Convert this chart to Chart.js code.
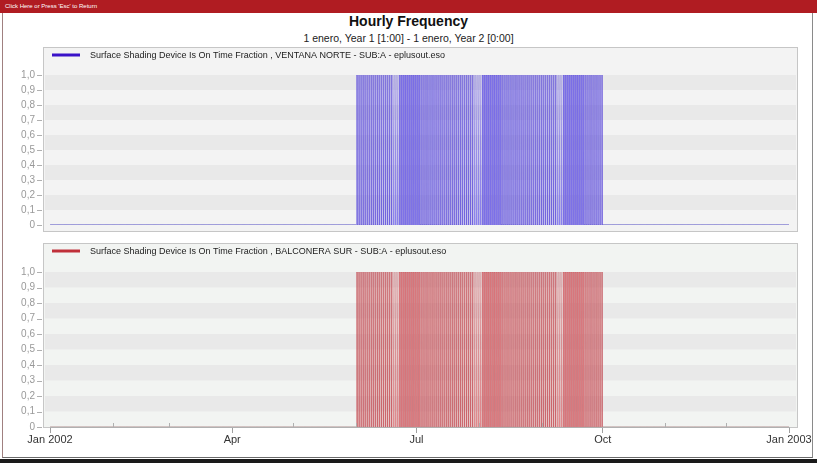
<!DOCTYPE html>
<html>
<head>
<meta charset="utf-8">
<script src="https://cdn.jsdelivr.net/npm/chart.js@4.4.1/dist/chart.umd.min.js"></script>
<style>
  html, body { margin: 0; padding: 0; background: #fff; }
  body { width: 817px; height: 463px; position: relative; overflow: hidden; font-family: "Liberation Sans", Arial, sans-serif; }
  #topbar { position: absolute; left: 0; top: 0; width: 817px; height: 13px; background: #b01c22; color: #fff; font-size: 6px; line-height: 13px; padding-left: 5px; box-sizing: border-box; }
  #frame { position: absolute; left: 2px; top: 13px; width: 811px; height: 445px; border-left: 1px solid #a08080; border-right: 1px solid #8a8a8a; border-bottom: 1px solid #6a6a6a; box-sizing: border-box; }
  #bottomedge { position: absolute; left: 0; top: 459px; width: 817px; height: 4px; background: #1a1a1a; }
  #title { position: absolute; left: 0; top: 13px; width: 817px; text-align: center; font-weight: bold; font-size: 14px; color: #111; }
  #subtitle { position: absolute; left: 0; top: 32px; width: 817px; text-align: center; font-size: 10.5px; color: #222; }
  canvas { position: absolute; left: 0; }
</style>
</head>
<body>
<div id="topbar">Click Here or Press 'Esc' to Return</div>
<div id="frame"></div>
<div id="bottomedge"></div>
<div id="title">Hourly Frequency</div>
<div id="subtitle">1 enero, Year 1 [1:00] - 1 enero, Year 2 [0:00]</div>
<canvas id="northChart" width="817" height="199" style="top:47px"></canvas>
<canvas id="southChart" width="817" height="215" style="top:243px"></canvas>
<script>
// --- data -------------------------------------------------------------
const hoursInYear = 8760;
// day-of-year (0 = 1 Jan) bounds of the shading season
const northSeason = [151, 273];   // 1 Jun - 1 Oct
const southSeason = [151, 273];
// shade state for each hour of a season day (0..23)
const northDayProfile = [0,0,0,0,0,0,1,1,1,1,1,1,1,1,1,1,1,1,1,1,1,0,0,0];
const southDayProfile = [0,0,0,0,0,0,1,1,1,1,1,1,1,1,1,1,1,1,1,1,1,0,0,0];

const monthStarts = [0, 31, 59, 90, 120, 151, 181, 212, 243, 273, 304, 334, 365];
const monthLabels = ["Jan 2002", "", "", "Apr", "", "", "Jul", "", "", "Oct", "", "", "Jan 2003"];
const yTicks = [0, 0.1, 0.2, 0.3, 0.4, 0.5, 0.6, 0.7, 0.8, 0.9, 1.0];

const northLabel = "Surface Shading Device Is On Time Fraction , VENTANA NORTE - SUB:A - eplusout.eso";
const southLabel = "Surface Shading Device Is On Time Fraction , BALCONERA SUR - SUB:A - eplusout.eso";

function hourlySeries(season, profile) {
  const pts = [];
  for (let h = 1; h <= hoursInYear; h++) {
    const day = Math.floor((h - 1) / 24);
    const inSeason = day >= season[0] && day < season[1];
    pts.push({ x: h / 24, y: inSeason ? profile[(h - 1) % 24] : 0 });
  }
  return pts;
}

// --- panel background, bands, legend, tick marks -----------------------
const panelPlugin = {
  id: "panel",
  beforeDraw(chart, args, opts) {
    const ctx = chart.ctx;
    const y = chart.scales.y;
    ctx.save();
    ctx.fillStyle = opts.bg;
    ctx.fillRect(43.5, 0.5, 754, 184);
    // alternating bands
    for (let i = 0; i < 10; i++) {
      if (i % 2 === 1) {
        const y0 = y.getPixelForValue(yTicks[i]);
        const y1 = y.getPixelForValue(yTicks[i + 1]);
        ctx.fillStyle = "#e9e9e9";
        ctx.fillRect(45, y1, 751, y0 - y1);
      }
    }
    ctx.strokeStyle = "#c6c6c6";
    ctx.lineWidth = 1;
    ctx.strokeRect(43.5, 0.5, 754, 184);
    // y tick marks outside the panel
    ctx.strokeStyle = "#b0b0b0";
    yTicks.forEach(v => {
      const py = Math.round(y.getPixelForValue(v)) + 0.5;
      ctx.beginPath();
      ctx.moveTo(37, py);
      ctx.lineTo(42, py);
      ctx.stroke();
    });
    // legend
    const ds = chart.data.datasets[0];
    ctx.strokeStyle = opts.legendColor;
    ctx.lineWidth = 3;
    ctx.beginPath();
    ctx.moveTo(52, 8);
    ctx.lineTo(80, 8);
    ctx.stroke();
    ctx.fillStyle = "#222";
    ctx.font = "9px 'Liberation Sans', Arial, sans-serif";
    ctx.textBaseline = "middle";
    ctx.fillText(ds.label, 90, 8.5);
    ctx.restore();
  },
  afterDraw(chart, args, opts) {
    if (!opts.minorTicks) return;
    const ctx = chart.ctx;
    const x = chart.scales.x;
    const b = chart.chartArea.bottom;
    ctx.save();
    ctx.strokeStyle = "#b0b0b0";
    ctx.lineWidth = 1;
    monthStarts.forEach((m, i) => {
      if (monthLabels[i]) return;
      const px = Math.round(x.getPixelForValue(m)) + 0.5;
      ctx.beginPath();
      ctx.moveTo(px, b - 4);
      ctx.lineTo(px, b);
      ctx.stroke();
    });
    ctx.restore();
  }
};

function makeChart(id, label, data, line, baseLine, fillCol, legendColor, bg, showX) {
  return new Chart(document.getElementById(id), {
    type: "line",
    data: {
      datasets: [{
        label,
        data,
        borderColor: line,
        borderWidth: 0.6,
        backgroundColor: fillCol,
        fill: "origin",
        pointRadius: 0,
        tension: 0,
        segment: {
          // flat stretches at zero are drawn as a plain thin line
          borderColor: c => (c.p0.parsed.y === 0 && c.p1.parsed.y === 0 ? baseLine : undefined),
          borderWidth: c => (c.p0.parsed.y === 0 && c.p1.parsed.y === 0 ? 1 : undefined)
        }
      }]
    },
    options: {
      responsive: false,
      animation: false,
      parsing: false,
      normalized: true,
      layout: { padding: showX ? { top: 29, right: 28, bottom: 6 } : { top: 28, right: 28, bottom: 8 } },
      plugins: {
        legend: { display: false },
        tooltip: { enabled: false },
        panel: { bg, legendColor, minorTicks: showX }
      },
      scales: {
        x: {
          type: "linear",
          min: 0,
          max: 365,
          display: showX,
          afterFit(s) { if (showX) s.height = 25; },
          afterBuildTicks(s) { s.ticks = monthStarts.map(v => ({ value: v })); },
          ticks: {
            autoSkip: false,
            maxRotation: 0,
            padding: 0,
            color: "#333",
            font: { size: 11, family: "'Liberation Sans', Arial, sans-serif" },
            callback: (v, i) => monthLabels[i]
          },
          grid: {
            drawOnChartArea: false,
            tickLength: 6,
            color: c => (monthLabels[c.index] ? "#a0a0a0" : "rgba(0,0,0,0)")
          },
          border: { display: true, color: "#b0b0b0" }
        },
        y: {
          min: 0,
          max: 1,
          afterFit(s) { s.width = 50; },
          afterBuildTicks(s) { s.ticks = yTicks.map(v => ({ value: v })); },
          ticks: {
            autoSkip: false,
            padding: 15,
            color: "#999",
            font: { size: 10, family: "'Liberation Sans', Arial, sans-serif" },
            callback: v => (v === 0 ? "0" : (Math.round(v * 10) / 10).toFixed(1).replace(".", ","))
          },
          grid: { drawOnChartArea: false, drawTicks: false },
          border: { display: false }
        }
      }
    },
    plugins: [panelPlugin]
  });
}

makeChart("northChart", northLabel, hourlySeries(northSeason, northDayProfile),
  "rgba(80,60,215,0.55)", "#4a44c0", "rgba(150,142,245,0.9)", "#3a12c8", "#f3f3f3", false);
makeChart("southChart", southLabel, hourlySeries(southSeason, southDayProfile),
  "rgba(190,60,70,0.55)", "#b09090", "rgba(235,155,157,0.9)", "#c0303a", "#f2f4f2", true);
</script>
</body>
</html>
